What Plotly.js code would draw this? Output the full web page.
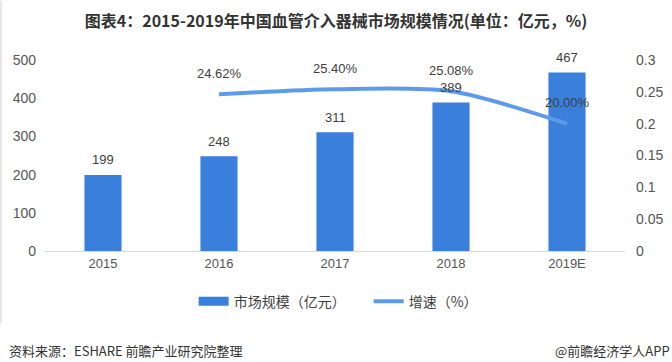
<!DOCTYPE html>
<html><head><meta charset="utf-8">
<script src="https://cdn.plot.ly/plotly-3.0.1.min.js"></script>
<style>html,body{margin:0;padding:0;background:#fff;}#chart{width:672px;height:362px;}</style>
</head><body><div id="chart"></div>
<script>
const years = ['2015','2016','2017','2018','2019E'];
const marketSize = [199, 248, 311, 389, 467];
const growthYears = ['2016','2017','2018','2019E'];
const growthRate = [0.2462, 0.2540, 0.2508, 0.2000];
const growthLabels = ['24.62%','25.40%','25.08%','20.00%'];

const FONT = '"Liberation Sans", "Noto Sans CJK SC", Arial, sans-serif';
const CJK = '"Noto Sans CJK SC", "Liberation Sans", sans-serif';
const BAR_COLOR = '#3A7FDC';
const LINE_COLOR = '#5B9BEA';
const LABEL_FONT = {family: FONT, size: 13, color: '#404040'};

const traces = [
  {
    type: 'bar', x: years, y: marketSize, name: '市场规模（亿元）', showlegend: false,
    marker: {color: BAR_COLOR}, width: 0.32, hoverinfo: 'none'
  },
  {
    type: 'scatter', mode: 'lines', x: growthYears, y: growthRate, yaxis: 'y2',
    name: '增速（%）', showlegend: false,
    line: {color: LINE_COLOR, width: 4, shape: 'spline', smoothing: 0.8},
    cliponaxis: false, hoverinfo: 'none'
  },
  // legend-only entries (no visible points)
  {type: 'scatter', mode: 'lines', x: [years[0]], y: [null], yaxis: 'y2', name: '市场规模（亿元）',
   line: {color: BAR_COLOR, width: 9}, hoverinfo: 'none'},
  {type: 'scatter', mode: 'lines', x: [years[0]], y: [null], yaxis: 'y2', name: '增速（%）',
   line: {color: LINE_COLOR, width: 4}, hoverinfo: 'none'}
];

// category index used so numeric-looking labels like '2016' are not read as numbers
const barAnnotations = years.map((yr, i) => ({
  x: i, y: marketSize[i], xref: 'x', yref: 'y', text: String(marketSize[i]),
  showarrow: false, yanchor: 'middle', yshift: 15, font: LABEL_FONT
}));
const lineAnnotations = growthYears.map((yr, i) => ({
  x: years.indexOf(yr), y: growthRate[i], xref: 'x', yref: 'y2', text: growthLabels[i],
  showarrow: false, yanchor: 'middle', yshift: 21, font: LABEL_FONT
}));

const layout = {
  width: 672, height: 362,
  margin: {l: 45, r: 47, t: 60, b: 111},
  paper_bgcolor: '#fff', plot_bgcolor: '#fff',
  font: {family: FONT, size: 12, color: '#555'},
  title: {text: '<b>图表4：2015-2019年中国血管介入器械市场规模情况(单位：亿元，%)</b>',
          font: {family: CJK, size: 16, color: '#333'}, x: 0.5, xanchor: 'center', y: 0.94, yanchor: 'middle'},
  showlegend: true,
  legend: {orientation: 'h', x: 0.558, xanchor: 'center', y: -0.265, yanchor: 'middle',
           font: {family: CJK, size: 14, color: '#404040'}, itemwidth: 30,
           entrywidth: 130, entrywidthmode: 'pixels'},
  xaxis: {type: 'category', categoryorder: 'array', categoryarray: years, range: [-0.5, years.length - 0.5],
          showgrid: false, zeroline: false, showline: true, linecolor: '#d9d9d9', linewidth: 1,
          ticks: '', tickfont: {family: FONT, size: 13, color: '#555'}},
  yaxis: {range: [0, 500], dtick: 100, showgrid: false, zeroline: false, showline: false,
          ticks: '', tickfont: {family: FONT, size: 14, color: '#555'}, ticklabelstandoff: 8},
  yaxis2: {range: [0, 0.3], dtick: 0.05, overlaying: 'y', side: 'right', showgrid: false, zeroline: false,
           showline: false, ticks: '', tickfont: {family: FONT, size: 14, color: '#555'}, ticklabelstandoff: 10},
  shapes: [
    {type: 'line', xref: 'paper', yref: 'paper', x0: -0.076, x1: -0.076, y0: 1.31, y1: -0.38,
     line: {color: '#e6e6e6', width: 2}}
  ],
  annotations: barAnnotations.concat(lineAnnotations, [
    {text: '资料来源：ESHARE 前瞻产业研究院整理', xref: 'paper', yref: 'paper', x: -0.066, y: -0.52,
     xanchor: 'left', yanchor: 'middle', showarrow: false, font: {family: CJK, size: 13, color: '#333'}},
    {text: '@前瞻经济学人APP', xref: 'paper', yref: 'paper', x: 1.081, y: -0.52,
     xanchor: 'right', yanchor: 'middle', showarrow: false, font: {family: CJK, size: 13, color: '#333'}}
  ])
};

Plotly.newPlot('chart', traces, layout, {displayModeBar: false, staticPlot: true});
</script></body></html>
